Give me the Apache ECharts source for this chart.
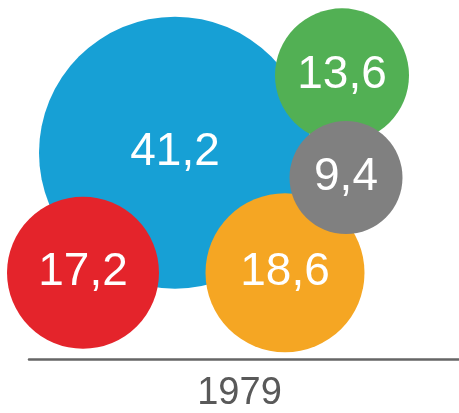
<!DOCTYPE html>
<html>
<head>
<meta charset="utf-8">
<script src="https://cdn.jsdelivr.net/npm/echarts@6/dist/echarts.min.js"></script>
<style>
  html, body { margin: 0; padding: 0; background: #fff; }
  #chart { width: 459px; height: 413px; }
</style>
</head>
<body>
<div id="chart"></div>
<script>
// category shown on the baseline
const years = ["1979"];

// bubble values and their layout positions (arbitrary units)
const labels = ["41,2", "17,2", "18,6", "13,6", "9,4"];
const values = [41.2, 17.2, 18.6, 13.6, 9.4];
const posX = [146, 54, 256, 313, 317];
const posY = [208, 87, 87, 286, 183];
const colors = ["#17a0d5", "#e4242b", "#f5a623", "#52b054", "#808080"];

const chart = echarts.init(document.getElementById("chart"));

const bubbles = values.map((v, i) => ({
  value: [posX[i], posY[i], v],
  name: labels[i],
  itemStyle: { color: colors[i], opacity: 1 }
}));

const option = {
  animation: false,
  grid: { left: 29, right: 0, top: 0, bottom: 51, containLabel: false },
  xAxis: [
    {
      type: "category",
      data: years,
      boundaryGap: true,
      axisLine: { lineStyle: { color: "#666666", width: 2.5 } },
      axisTick: { show: false },
      axisLabel: {
        color: "#595959",
        fontSize: 38,
        fontFamily: "Liberation Sans, Arial, sans-serif",
        margin: 16,
        padding: [0, 9, 0, 0]
      }
    },
    { type: "value", min: 0, max: 430, show: false }
  ],
  yAxis: { type: "value", min: 0, max: 362, show: false },
  series: [
    {
      type: "scatter",
      xAxisIndex: 1,
      clip: false,
      data: bubbles,
      symbolSize: d => 66 + 5 * d[2],
      itemStyle: { opacity: 1 },
      label: {
        show: true,
        position: "inside",
        formatter: p => p.name,
        color: "#ffffff",
        fontSize: 46,
        fontFamily: "Liberation Sans, Arial, sans-serif"
      },
      emphasis: { disabled: true }
    }
  ]
};

chart.setOption(option);
</script>
</body>
</html>
